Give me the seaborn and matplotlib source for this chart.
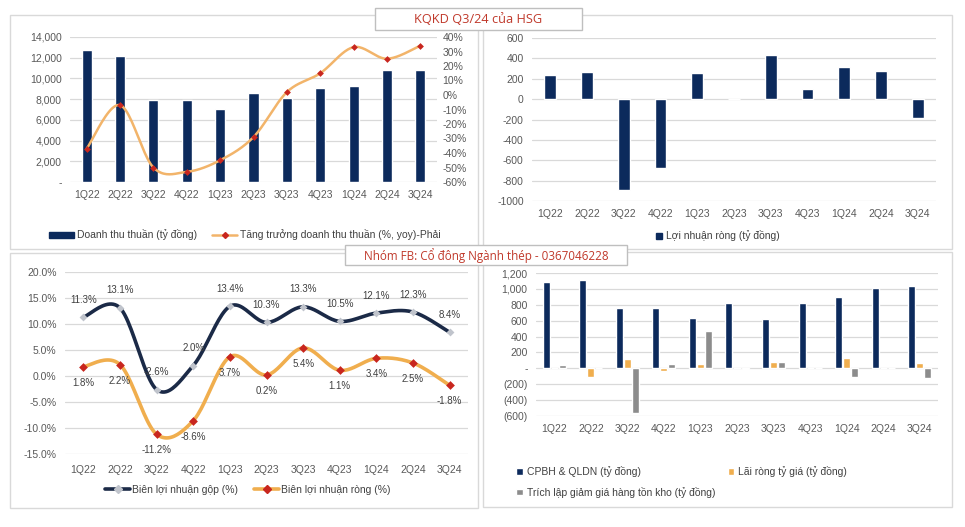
import numpy as np
import pandas as pd
import matplotlib
matplotlib.use("Agg")
import matplotlib.pyplot as plt
from matplotlib.patches import Rectangle, Patch
from matplotlib.lines import Line2D
import matplotlib.ticker as mticker
import seaborn as sns

# ---------------- data ----------------
quarters = ["1Q22", "2Q22", "3Q22", "4Q22", "1Q23", "2Q23", "3Q23", "4Q23", "1Q24", "2Q24", "3Q24"]
revenue = [12700, 12200, 7900, 7900, 7000, 8600, 8100, 9100, 9300, 10800, 10800]
rev_growth = [-37, -7, -50, -53, -45, -29, 2, 15, 33, 25, 34]
net_profit = [233, 265, -888, -679, 252, 5, 430, 95, 311, 275, -190]
gross_margin = [11.3, 13.1, -2.6, 2.0, 13.4, 10.3, 13.3, 10.5, 12.1, 12.3, 8.4]
net_margin = [1.8, 2.2, -11.2, -8.6, 3.7, 0.2, 5.4, 1.1, 3.4, 2.5, -1.8]
sga_exp = [1084, 1118, 764, 764, 637, 827, 624, 827, 903, 1017, 1042]
fx_gain = [0, -110, 114, -30, 50, 5, 84, 5, 127, 5, 72]
inv_prov = [46, 0, -561, 59, 464, -12, 80, 0, -105, 0, -127]

title_top = "KQKD Q3/24 của HSG"
title_mid = "Nhóm FB: Cổ đông Ngành thép - 0367046228"
lbl_rev = "Doanh thu thuần (tỷ đồng)"
lbl_growth = "Tăng trưởng doanh thu thuần (%, yoy)-Phải"
lbl_np = "Lợi nhuận ròng (tỷ đồng)"
lbl_gm = "Biên lợi nhuận gộp (%)"
lbl_nm = "Biên lợi nhuận ròng (%)"
lbl_sga = "CPBH & QLDN (tỷ đồng)"
lbl_fx = "Lãi ròng tỷ giá (tỷ đồng)"
lbl_inv = "Trích lập giảm giá hàng tồn kho (tỷ đồng)"

# ---------------- style ----------------
sns.set_theme(style="white")
plt.rcParams["font.family"] = ["Liberation Sans", "DejaVu Sans"]

NAVY = "#0C2A5C"
ORANGE = "#F0AE4E"
LORANGE = "#F2B46A"
RED = "#C8261E"
GRAY = "#8C8C8C"
GRID = "#D9D9D9"
TXT = "#595959"
FS = 7.5

W, H = 965, 527
fig = plt.figure(figsize=(W / 100, H / 100), dpi=100)
fig.patch.set_facecolor("white")


def rect(x0, y0, x1, y1):
    return [x0 / W, 1 - y1 / H, (x1 - x0) / W, (y1 - y0) / H]


def fx(x):
    return x / W


def fy(y):
    return 1 - y / H


def border(x0, y0, x1, y1, color=GRID, fill=False, z=0):
    fig.patches.append(Rectangle((fx(x0), fy(y1)), fx(x1) - fx(x0), fy(y0) - fy(y1),
                                 transform=fig.transFigure, fill=fill, facecolor="white",
                                 edgecolor=color, linewidth=1.0, zorder=z))


def smooth(xs, ys, n=24):
    p = np.column_stack([xs, ys]).astype(float)
    p = np.vstack([p[0], p, p[-1]])
    out = []
    for i in range(1, len(p) - 2):
        p0, p1, p2, p3 = p[i - 1], p[i], p[i + 1], p[i + 2]
        t = np.linspace(0, 1, n)[:, None]
        seg = 0.5 * ((2 * p1) + (-p0 + p2) * t + (2 * p0 - 5 * p1 + 4 * p2 - p3) * t ** 2
                     + (-p0 + 3 * p1 - 3 * p2 + p3) * t ** 3)
        out.append(seg if i == 1 else seg[1:])
    out = np.vstack(out)
    return out[:, 0], out[:, 1]


def style_ax(ax):
    for s in ax.spines.values():
        s.set_visible(False)
    ax.set_facecolor("none")
    ax.yaxis.grid(True, color=GRID, linewidth=0.9)
    ax.xaxis.grid(False)
    ax.set_axisbelow(True)
    ax.tick_params(axis="both", length=0, labelsize=FS, labelcolor=TXT, pad=6)
    ax.set_xlabel("")
    ax.set_ylabel("")


def acct(v, pos=None):
    if abs(v) < 1e-9:
        return "-"
    if v < 0:
        return "({:,.0f})".format(-v)
    return "{:,.0f}".format(v)


xpos = np.arange(len(quarters))

# panel borders
border(10, 15, 478, 249)
border(483, 15, 952, 249)
border(10, 253, 478, 508)
border(483, 252, 952, 507)

# ---------------- top-left ----------------
ax1 = fig.add_axes(rect(70, 37, 437, 182))
df1 = pd.DataFrame({"q": quarters, "rev": revenue})
sns.barplot(data=df1, x="q", y="rev", order=quarters, color=NAVY, saturation=1,
            width=0.3, ax=ax1)
style_ax(ax1)
ax1.set_xlim(-0.5, 10.5)
ax1.set_ylim(0, 14000)
ax1.set_yticks(np.arange(0, 14001, 2000))
ax1.yaxis.set_major_formatter(mticker.FuncFormatter(acct))
ax1b = ax1.twinx()
for s in ax1b.spines.values():
    s.set_visible(False)
ax1b.set_ylim(-60, 40)
ax1b.set_yticks(np.arange(-60, 41, 10))
ax1b.yaxis.set_major_formatter(mticker.FuncFormatter(lambda v, p: "{:.0f}%".format(v)))
ax1b.tick_params(axis="y", length=0, labelsize=FS, labelcolor=TXT, pad=4)
sx, sy = smooth(xpos, rev_growth)
ax1b.plot(sx, sy, color=LORANGE, lw=1.8, solid_capstyle="round")
sns.scatterplot(x=xpos, y=rev_growth, ax=ax1b, marker="D", s=12, color=RED,
                edgecolor=RED, linewidth=0, zorder=5)
ax1b.set_xlim(-0.5, 10.5)
ax1b.set_ylabel("")
fig.legend(handles=[Patch(facecolor=NAVY, edgecolor=NAVY, label=lbl_rev),
                    Line2D([0], [0], color=LORANGE, lw=1.8, marker="D", markersize=3,
                           markerfacecolor=RED, markeredgecolor=RED, label=lbl_growth)],
           loc="center", bbox_to_anchor=(fx(245), fy(235)), ncol=2, frameon=False,
           fontsize=FS, labelcolor="#404040", handlelength=2.4, handleheight=0.5,
           columnspacing=1.4, handletextpad=0.3)

# ---------------- top-right ----------------
ax2 = fig.add_axes(rect(532, 38, 936, 201))
df2 = pd.DataFrame({"q": quarters, "np": net_profit})
sns.barplot(data=df2, x="q", y="np", order=quarters, color=NAVY, saturation=1,
            width=0.32, ax=ax2)
style_ax(ax2)
ax2.set_xlim(-0.5, 10.5)
ax2.set_ylim(-1000, 600)
ax2.set_yticks(np.arange(-1000, 601, 200))
ax2.yaxis.set_major_formatter(mticker.FuncFormatter(lambda v, p: "{:.0f}".format(v)))
fig.legend(handles=[Patch(facecolor=NAVY, edgecolor=NAVY, label=lbl_np)],
           loc="center", bbox_to_anchor=(fx(718), fy(236)), frameon=False,
           fontsize=FS, labelcolor="#404040", handlelength=0.6, handleheight=0.6,
           handletextpad=0.4)

# ---------------- bottom-left ----------------
ax3 = fig.add_axes(rect(65, 272, 468, 454))
style_ax(ax3)
gx, gy = smooth(xpos, gross_margin)
nx, ny = smooth(xpos, net_margin)
ax3.plot(gx, gy, color="#1B2A47", lw=2.6, solid_capstyle="round", zorder=3)
ax3.plot(nx, ny, color=ORANGE, lw=2.6, solid_capstyle="round", zorder=3)
sns.scatterplot(x=xpos, y=gross_margin, ax=ax3, marker="D", s=16, color="#C0C4CC",
                edgecolor="#C0C4CC", linewidth=0, zorder=5)
sns.scatterplot(x=xpos, y=net_margin, ax=ax3, marker="D", s=20, color=RED,
                edgecolor=RED, linewidth=0, zorder=5)
for i in range(len(quarters)):
    ax3.annotate("{:.1f}%".format(gross_margin[i]), (xpos[i], gross_margin[i]),
                 xytext=(0, 9), textcoords="offset points", ha="center", va="bottom",
                 fontsize=7, color="#404040")
    ax3.annotate("{:.1f}%".format(net_margin[i]), (xpos[i], net_margin[i]),
                 xytext=(0, -8), textcoords="offset points", ha="center", va="top",
                 fontsize=7, color="#404040")
ax3.set_xlim(-0.5, 10.5)
ax3.set_ylim(-15, 20)
ax3.set_yticks(np.arange(-15, 20.1, 5))
ax3.yaxis.set_major_formatter(mticker.FuncFormatter(lambda v, p: "{:.1f}%".format(v)))
ax3.set_xticks(xpos)
ax3.set_xticklabels(quarters)
ax3.tick_params(axis="x", pad=8)
fig.legend(handles=[Line2D([0], [0], color="#1B2A47", lw=2.6, marker="D", markersize=4,
                           markerfacecolor="#C0C4CC", markeredgecolor="#C0C4CC", label=lbl_gm),
                    Line2D([0], [0], color=ORANGE, lw=2.6, marker="D", markersize=4,
                           markerfacecolor=RED, markeredgecolor=RED, label=lbl_nm)],
           loc="center", bbox_to_anchor=(fx(248), fy(490)), ncol=2, frameon=False,
           fontsize=FS, labelcolor="#404040", handlelength=2.4, columnspacing=1.5,
           handletextpad=0.2)

# ---------------- bottom-right ----------------
ax4 = fig.add_axes(rect(536, 273, 938, 416))
df4 = pd.DataFrame({"q": quarters * 3,
                    "series": [lbl_sga] * 11 + [lbl_fx] * 11 + [lbl_inv] * 11,
                    "val": sga_exp + fx_gain + inv_prov})
sns.barplot(data=df4, x="q", y="val", hue="series", order=quarters,
            hue_order=[lbl_sga, lbl_fx, lbl_inv], palette=[NAVY, ORANGE, GRAY],
            saturation=1, width=0.66, gap=0.12, ax=ax4, legend=False)
style_ax(ax4)
ax4.set_xlim(-0.5, 10.5)
ax4.set_ylim(-600, 1200)
ax4.set_yticks(np.arange(-600, 1201, 200))
ax4.yaxis.set_major_formatter(mticker.FuncFormatter(acct))
fig.legend(handles=[Patch(facecolor=NAVY, label=lbl_sga),
                    Patch(facecolor=GRAY, label=lbl_inv),
                    Patch(facecolor=ORANGE, label=lbl_fx)],
           loc="upper left", bbox_to_anchor=(fx(507), fy(457)), ncol=2, frameon=False,
           fontsize=FS, labelcolor="#404040", handlelength=0.6, handleheight=0.6,
           handletextpad=0.4, columnspacing=1.2, labelspacing=0.9)

# ---------------- title boxes ----------------
border(375, 8, 582, 30, color="#BFBFBF", fill=True, z=5)
fig.text(fx(478.5), fy(19.5), title_top, ha="center", va="center", fontsize=9.2,
         color="#C0392B", family=["Open Sans", "DejaVu Sans"], zorder=6)
border(345, 245, 627, 265, color="#BFBFBF", fill=True, z=5)
fig.text(fx(486), fy(255.5), title_mid, ha="center", va="center", fontsize=8.4,
         color="#C0392B", family=["Open Sans", "DejaVu Sans"], zorder=6)

fig.savefig("out.png", dpi=100, facecolor="white")
